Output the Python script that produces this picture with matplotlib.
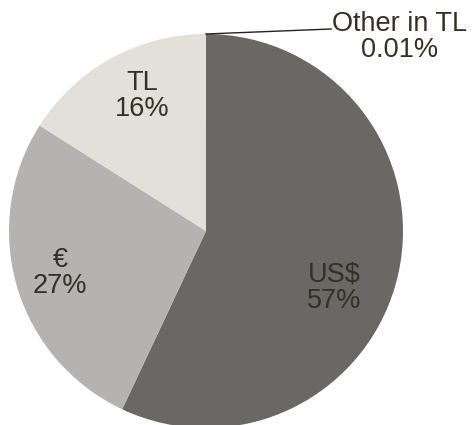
import matplotlib
matplotlib.use("Agg")
import matplotlib.pyplot as plt

labels = ["US$", "€", "TL", "Other in TL"]
shares = [57, 27, 16, 0.01]
share_text = ["57%", "27%", "16%", "0.01%"]
colors = ["#6a6865", "#b4b3b2", "#e3dfd9", "#e3dfd9"]

plt.rcParams["font.family"] = ["Liberation Sans", "DejaVu Sans"]

fig = plt.figure(figsize=(4.77, 4.25), dpi=100)
ax = fig.add_axes([0, 0, 1, 1])

ax.pie(shares, colors=colors, startangle=90, counterclock=False,
       center=(206, 194), radius=197, frame=True,
       wedgeprops=dict(linewidth=0))
ax.set_xlim(0, 477)
ax.set_ylim(0, 425)
ax.axis("off")

txt_col = "#333026"
# label positions in pixel space (y measured from bottom)
pos = [(334, 137), (60, 152), (142, 329)]
for i in range(3):
    ax.text(pos[i][0], pos[i][1], labels[i] + "\n" + share_text[i],
            ha="center", va="center", fontsize=19.5, color=txt_col,
            linespacing=1.0)

ax.plot([206, 331], [391, 396], color="#222222", lw=1)
ax.text(400, 388, labels[3] + "\n" + share_text[3], ha="center", va="center",
        fontsize=19.5, color=txt_col, linespacing=1.0)

fig.savefig("out.png", dpi=100)
